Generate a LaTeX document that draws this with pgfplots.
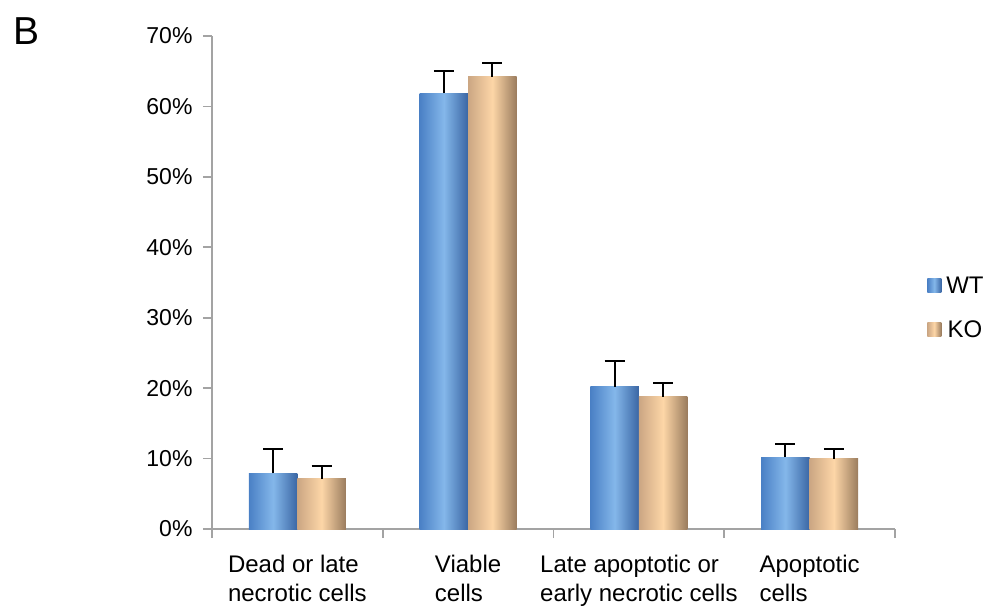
\documentclass[border=0pt]{standalone}
\usepackage{pgfplots}
\pgfplotsset{compat=1.18}
\usepackage{fontspec}
\setmainfont{Liberation Sans}
\definecolor{axgray}{HTML}{A3A3A3}
\definecolor{bL}{HTML}{4A80C5}
\definecolor{bM}{HTML}{84B7EA}
\definecolor{bR}{HTML}{3A66A4}
\definecolor{tL}{HTML}{CBA683}
\definecolor{tM}{HTML}{FDD6A7}
\definecolor{tR}{HTML}{9A7C5E}
\pgfplotsset{
  wt/.style={ybar, bar width=48.5bp, bar shift=0pt, draw=none, left color=bL, right color=bR, middle color=bM, forget plot, x filter/.expression={x-0.14202}},
  ko/.style={ybar, bar width=48.5bp, bar shift=0pt, draw=none, left color=tL, right color=tR, middle color=tM, forget plot, x filter/.expression={x+0.14202}},
}
\begin{document}
\begin{tikzpicture}
\path[use as bounding box] (-212bp,-81bp) rectangle (779bp,529bp);
\begin{axis}[
  scale only axis, width=683bp, height=493bp,
  xmin=-0.5, xmax=3.5, ymin=0, ymax=70,
  axis x line*=bottom, axis y line*=left,
  axis line style={axgray, line width=2.5bp, -},
  tick align=outside,
  tick style={axgray, line width=1.8bp},
  major tick length=9bp,
  ytick={0,10,...,70},
  yticklabel={\pgfmathprintnumber{\tick}\%},
  /pgf/number format/assume math mode=true,
  yticklabel style={font=\fontsize{23bp}{27bp}\selectfont, text=black, xshift=-7bp},
  xtick={-0.5,0.5,1.5,2.5,3.5},
  xticklabels={,,,,,},
  extra x ticks={0,1,2,3},
  extra x tick labels={Dead or late\\necrotic cells, Viable\\cells, Late apoptotic or\\early necrotic cells, Apoptotic\\cells},
  extra x tick style={major tick length=0pt, xticklabel style={align=left, font=\fontsize{24bp}{29bp}\selectfont, text=black, yshift=-23bp}},
  error bars/y dir=plus, error bars/y explicit,
  error bars/error bar style={black, line width=2bp},
  error bars/error mark options={rotate=90, mark size=10bp, line width=2bp, black},
  legend style={draw=none, fill=none, at={(1.047,0.449)}, anchor=west, inner sep=0pt,
    row sep=22bp, font=\fontsize{24bp}{28bp}\selectfont,
    /tikz/every odd column/.append style={column sep=3bp}},
  legend image code/.code={\path[#1, draw=none] (0bp,-7bp) rectangle (14bp,7bp);},
  clip=false,
]
\addlegendimage{draw=none, left color=bL, right color=bR, middle color=bM}
\addlegendentry{WT}
\addlegendimage{draw=none, left color=tL, right color=tR, middle color=tM}
\addlegendentry{KO}
% WT
\addplot[wt] coordinates {(0,7.9) +- (0,3.5)};
\addplot[wt] coordinates {(1,61.9) +- (0,3.2)};
\addplot[wt] coordinates {(2,20.2) +- (0,3.7)};
\addplot[wt] coordinates {(3,10.2) +- (0,1.9)};
% KO
\addplot[ko] coordinates {(0,7.1) +- (0,1.9)};
\addplot[ko] coordinates {(1,64.2) +- (0,2.0)};
\addplot[ko] coordinates {(2,18.8) +- (0,2.0)};
\addplot[ko] coordinates {(3,10.0) +- (0,1.4)};
\end{axis}
\node[anchor=base west, inner sep=0pt, font=\fontsize{39bp}{44bp}\selectfont] at (-199bp,484bp) {B};
\end{tikzpicture}
\end{document}
